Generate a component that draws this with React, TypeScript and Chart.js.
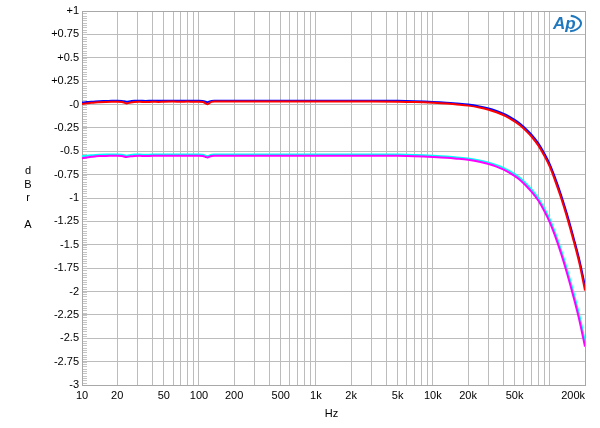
import React, { useEffect, useRef } from 'react';
import { Chart, registerables } from 'chart.js';

Chart.register(...registerables);

// Frequency points (Hz)
const freqs = [
  10, 11, 12, 13, 14, 16, 18, 20, 22, 24, 26, 28, 31, 35, 40, 45, 50, 60, 70, 80, 90, 100,
  108, 114, 118, 122, 128, 135, 150, 200, 300, 500, 1000, 2000, 3000, 5000, 7000, 10000,
  13000, 16000, 20000, 25000, 30000, 35000, 40000, 45000, 50000, 56000, 63000, 70000,
  80000, 90000, 100000, 110000, 125000, 140000, 160000, 180000, 200000,
];

const redValues = [
  0.005, 0.012, 0.018, 0.022, 0.024, 0.027, 0.029, 0.03, 0.026, 0.012, 0.022, 0.028, 0.03, 0.026, 0.03, 0.028, 0.03, 0.031, 0.029, 0.031, 0.03, 0.03,
  0.027, 0.012, 0.002, 0.012, 0.028, 0.032, 0.032, 0.032, 0.032, 0.032, 0.032, 0.032, 0.032, 0.03, 0.026, 0.018,
  0.01, 0.0, -0.012, -0.032, -0.056, -0.083, -0.112, -0.145, -0.18, -0.225, -0.285, -0.345,
  -0.44, -0.55, -0.665, -0.8, -1.0, -1.2, -1.46, -1.71, -1.99,
];

const blueValues = [
  0.02, 0.026, 0.03, 0.033, 0.035, 0.037, 0.039, 0.04, 0.038, 0.03, 0.035, 0.039, 0.04, 0.038, 0.04, 0.039, 0.04, 0.041, 0.04, 0.041, 0.04, 0.04,
  0.038, 0.03, 0.024, 0.03, 0.038, 0.041, 0.041, 0.041, 0.041, 0.041, 0.041, 0.041, 0.041, 0.039, 0.035, 0.028,
  0.02, 0.011, 0.0, -0.02, -0.043, -0.07, -0.098, -0.13, -0.164, -0.208, -0.266, -0.325,
  -0.418, -0.526, -0.64, -0.772, -0.97, -1.17, -1.43, -1.675, -1.945,
];

const cyanValues = [
  -0.553, -0.547, -0.543, -0.54, -0.538, -0.536, -0.535, -0.535, -0.538, -0.548, -0.54, -0.536, -0.535, -0.538, -0.535, -0.536, -0.535, -0.534, -0.536, -0.534, -0.535, -0.535,
  -0.538, -0.548, -0.555, -0.547, -0.537, -0.534, -0.534, -0.534, -0.534, -0.534, -0.534, -0.534, -0.534, -0.536, -0.54, -0.548,
  -0.556, -0.566, -0.578, -0.598, -0.622, -0.648, -0.677, -0.71, -0.745, -0.79, -0.85, -0.91,
  -1.005, -1.115, -1.23, -1.36, -1.56, -1.76, -2.02, -2.27, -2.54,
];

const magentaValues = [
  -0.574, -0.566, -0.559, -0.555, -0.552, -0.55, -0.549, -0.548, -0.551, -0.562, -0.554, -0.55, -0.548, -0.551, -0.548, -0.549, -0.548, -0.547, -0.549, -0.547, -0.548, -0.548,
  -0.551, -0.561, -0.568, -0.56, -0.55, -0.547, -0.547, -0.547, -0.547, -0.547, -0.547, -0.547, -0.547, -0.549, -0.553, -0.561,
  -0.569, -0.579, -0.592, -0.612, -0.637, -0.664, -0.694, -0.728, -0.764, -0.81, -0.872, -0.934,
  -1.03, -1.142, -1.26, -1.392, -1.595, -1.8, -2.065, -2.32, -2.59,
];

const xTickValues = [10, 20, 50, 100, 200, 500, 1000, 2000, 5000, 10000, 20000, 50000, 200000];
const xTickLabels = ['10', '20', '50', '100', '200', '500', '1k', '2k', '5k', '10k', '20k', '50k', '200k'];

const yTickValues = [1, 0.75, 0.5, 0.25, 0, -0.25, -0.5, -0.75, -1, -1.25, -1.5, -1.75, -2, -2.25, -2.5, -2.75, -3];
const yTickLabels = ['+1', '+0.75', '+0.5', '+0.25', '-0', '-0.25', '-0.5', '-0.75', '-1', '-1.25', '-1.5', '-1.75', '-2', '-2.25', '-2.5', '-2.75', '-3'];

const yTitleLetters = ['d', 'B', 'r', '', 'A'];
const xTitle = 'Hz';

const FONT = '"Liberation Sans", Arial, sans-serif';

function buildGridFreqs(): number[] {
  const out: number[] = [];
  for (let d = 10; d <= 100000; d *= 10) {
    for (let m = 1; m <= 9; m++) {
      const v = m * d;
      if (v <= 200000) out.push(v);
    }
  }
  out.push(200000);
  return Array.from(new Set(out));
}

export default function App() {
  const ref = useRef<HTMLCanvasElement>(null);

  useEffect(() => {
    const canvas = ref.current;
    if (!canvas) return;

    const mk = (vals: number[], color: string) => ({
      data: freqs.map((f, i) => ({ x: f, y: vals[i] })),
      borderColor: color,
      backgroundColor: color,
      borderWidth: 2,
      pointRadius: 0,
      fill: false,
      cubicInterpolationMode: 'monotone' as const,
    });

    const gridFreqs = buildGridFreqs();

    const decor = {
      id: 'decor',
      beforeDatasetsDraw(chart: any) {
        const { ctx, chartArea } = chart;
        const ys = chart.scales.y;
        ctx.save();
        // left ruler minor ticks
        ctx.strokeStyle = '#c4c4c4';
        ctx.lineWidth = 1;
        for (let i = 0; i <= 160; i++) {
          const v = -3 + i * 0.025;
          const py = Math.round(ys.getPixelForValue(v)) + 0.5;
          ctx.beginPath();
          ctx.moveTo(chartArea.left, py);
          ctx.lineTo(chartArea.left + 5, py);
          ctx.stroke();
        }
        // frame
        ctx.strokeStyle = '#a8a8a8';
        ctx.lineWidth = 1;
        ctx.strokeRect(
          Math.round(chartArea.left) + 0.5,
          Math.round(chartArea.top) + 0.5,
          Math.round(chartArea.right - chartArea.left),
          Math.round(chartArea.bottom - chartArea.top)
        );
        ctx.restore();
      },
      afterDraw(chart: any) {
        const { ctx, chartArea } = chart;
        const xs = chart.scales.x;
        const ys = chart.scales.y;
        ctx.save();
        ctx.fillStyle = '#000';
        ctx.font = `11px ${FONT}`;
        // y labels
        ctx.textAlign = 'right';
        ctx.textBaseline = 'middle';
        yTickValues.forEach((v, i) => {
          ctx.fillText(yTickLabels[i], chartArea.left - 3, ys.getPixelForValue(v));
        });
        // x labels
        ctx.textBaseline = 'middle';
        xTickValues.forEach((v, i) => {
          const px = xs.getPixelForValue(v);
          if (i === xTickValues.length - 1) {
            ctx.textAlign = 'right';
            ctx.fillText(xTickLabels[i], px, chartArea.bottom + 11);
          } else {
            ctx.textAlign = 'center';
            ctx.fillText(xTickLabels[i], px, chartArea.bottom + 11);
          }
        });
        // x title
        ctx.textAlign = 'center';
        ctx.fillText(xTitle, (chartArea.left + chartArea.right) / 2 - 2, chartArea.bottom + 29);
        // y title (stacked letters)
        yTitleLetters.forEach((ch, i) => {
          ctx.fillText(ch, 28, 171 + i * 13.6);
        });
        // AP logo
        ctx.fillStyle = '#1f78be';
        ctx.strokeStyle = '#1f78be';
        ctx.font = `italic bold 17px ${FONT}`;
        ctx.textAlign = 'left';
        ctx.textBaseline = 'middle';
        ctx.fillText('Ap', 553, 24);
        ctx.lineWidth = 2;
        ctx.beginPath();
        ctx.ellipse(567, 23.5, 14, 8, 0, -1.3, 1.35);
        ctx.stroke();
        ctx.restore();
      },
    };

    const chart = new Chart(canvas, {
      type: 'line',
      data: {
        datasets: [
          mk(magentaValues, '#ff00ff'),
          mk(cyanValues, '#00ffff'),
          mk(redValues, '#ff0000'),
          mk(blueValues, '#0000ff'),
        ],
      },
      options: {
        responsive: false,
        animation: false,
        devicePixelRatio: 1,
        parsing: true,
        layout: { padding: { left: 82, right: 15, top: 11, bottom: 43 } },
        plugins: {
          legend: { display: false },
          tooltip: { enabled: false },
          title: { display: false },
        },
        scales: {
          x: {
            type: 'logarithmic',
            min: 10,
            max: 200000,
            afterBuildTicks: (scale: any) => {
              scale.ticks = gridFreqs.map((v) => ({ value: v }));
            },
            ticks: { display: false },
            grid: { color: '#bcbcbc', lineWidth: 1, drawTicks: false },
            border: { display: false },
          },
          y: {
            type: 'linear',
            min: -3,
            max: 1,
            ticks: { display: false, stepSize: 0.25 },
            grid: { color: '#bcbcbc', lineWidth: 1, drawTicks: false },
            border: { display: false },
          },
        },
      } as any,
      plugins: [decor],
    });

    return () => {
      chart.destroy();
    };
  }, []);

  return (
    <div style={{ position: 'absolute', left: 0, top: 0, width: 600, height: 428, background: '#fff' }}>
      <canvas ref={ref} width={600} height={428} style={{ width: 600, height: 428, display: 'block' }} />
    </div>
  );
}
